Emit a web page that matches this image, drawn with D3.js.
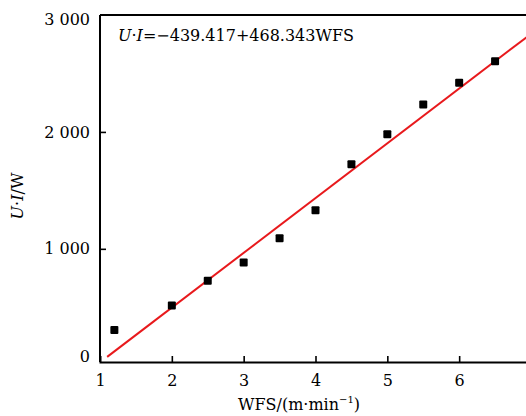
<!DOCTYPE html>
<html><head><meta charset="utf-8">
<script src="https://cdn.jsdelivr.net/npm/d3@7"></script>
<style>body{margin:0;background:#fff}svg{display:block}</style>
</head><body>
<script>
const wfs = [1.2, 2, 2.5, 3, 3.5, 4, 4.5, 5, 5.5, 6, 6.5];
const power = [305, 515, 727, 884, 1091, 1331, 1724, 1980, 2235, 2420, 2604];
const xTicks = [1, 2, 3, 4, 5, 6, 7];
const yTicks = [0, 1000, 2000, 3000];
const yTickLabels = ["0", "1 000", "2 000", "3 000"];
const fitIntercept = -439.417, fitSlope = 468.343;
const fitRange = [1.1, 7];

const W = 526, H = 416;
const svg = d3.select("body").append("svg").attr("width", W).attr("height", H);
const font = "DejaVu Serif";
const x = d3.scaleLinear().domain([1, 7]).range([100, 531]);
const y = d3.scaleLinear().domain([32, 3000]).range([362, 15]);

// frame top line
svg.append("line").attr("x1", x(1)).attr("x2", x(7)).attr("y1", y(3000)).attr("y2", y(3000))
  .attr("stroke", "#000").attr("stroke-width", 2);

// x axis
const xa = svg.append("g").attr("transform", `translate(0,${y.range()[0]})`)
  .call(d3.axisBottom(x).tickValues(xTicks).tickSize(-6).tickPadding(13).tickFormat(d3.format("d")));
xa.select(".domain").attr("stroke-width", 2);
xa.selectAll(".tick line").attr("stroke-width", 1.6).filter(d => d === 1).remove();
xa.selectAll(".tick text").attr("font-family", font).attr("font-size", 16).attr("fill", "#000");

// y axis
const ya = svg.append("g").attr("transform", `translate(${x(1)},0)`)
  .call(d3.axisLeft(y).tickValues(yTicks).tickSize(-6).tickPadding(10)
    .tickFormat((d, i) => yTickLabels[i]));
ya.select(".domain").attr("stroke-width", 2).attr("d", `M0,${y.range()[0]}V${y.range()[1]}`);
ya.selectAll(".tick line").attr("stroke-width", 1.6).filter(d => d === 0 || d === 3000).remove();
ya.selectAll(".tick text").attr("font-family", font).attr("font-size", 16).attr("fill", "#000")
  .attr("dy", d => d === 0 ? "-0.02em" : d === 3000 ? "0.62em" : "0.32em");
ya.selectAll(".tick").filter(d => d === 0).attr("transform", `translate(0,${y.range()[0]})`);

// fit line
svg.append("line")
  .attr("x1", x(fitRange[0])).attr("y1", y(fitIntercept + fitSlope * fitRange[0]))
  .attr("x2", x(fitRange[1])).attr("y2", y(fitIntercept + fitSlope * fitRange[1]))
  .attr("stroke", "#e8191c").attr("stroke-width", 2);

// markers
const s = 8;
svg.append("g").selectAll("rect").data(wfs).join("rect")
  .attr("x", (d) => x(d) - s / 2).attr("y", (d, i) => y(power[i]) - s / 2)
  .attr("width", s).attr("height", s).attr("rx", 1).attr("fill", "#000");

// equation
const eq = svg.append("text").attr("x", 118).attr("y", 41)
  .attr("font-family", font).attr("font-size", 16).attr("fill", "#000");
eq.append("tspan").attr("font-style", "italic").text("U");
eq.append("tspan").text("·");
eq.append("tspan").attr("font-style", "italic").text("I");
eq.append("tspan").text("=−439.417+468.343WFS");

// x label
const xl = svg.append("text").attr("x", 299).attr("y", 410).attr("text-anchor", "middle")
  .attr("font-family", font).attr("font-size", 16).attr("fill", "#000");
xl.append("tspan").text("WFS/(m·min");
xl.append("tspan").attr("font-size", 10).attr("dy", -7).text("−1");
xl.append("tspan").attr("dy", 7).text(")");

// y label
const yl = svg.append("text").attr("transform", "translate(23,196) rotate(-90)")
  .attr("text-anchor", "middle").attr("font-family", font).attr("font-size", 16).attr("fill", "#000");
yl.append("tspan").attr("font-style", "italic").text("U");
yl.append("tspan").text("·");
yl.append("tspan").attr("font-style", "italic").text("I");
yl.append("tspan").text("/W");
</script>
</body></html>
